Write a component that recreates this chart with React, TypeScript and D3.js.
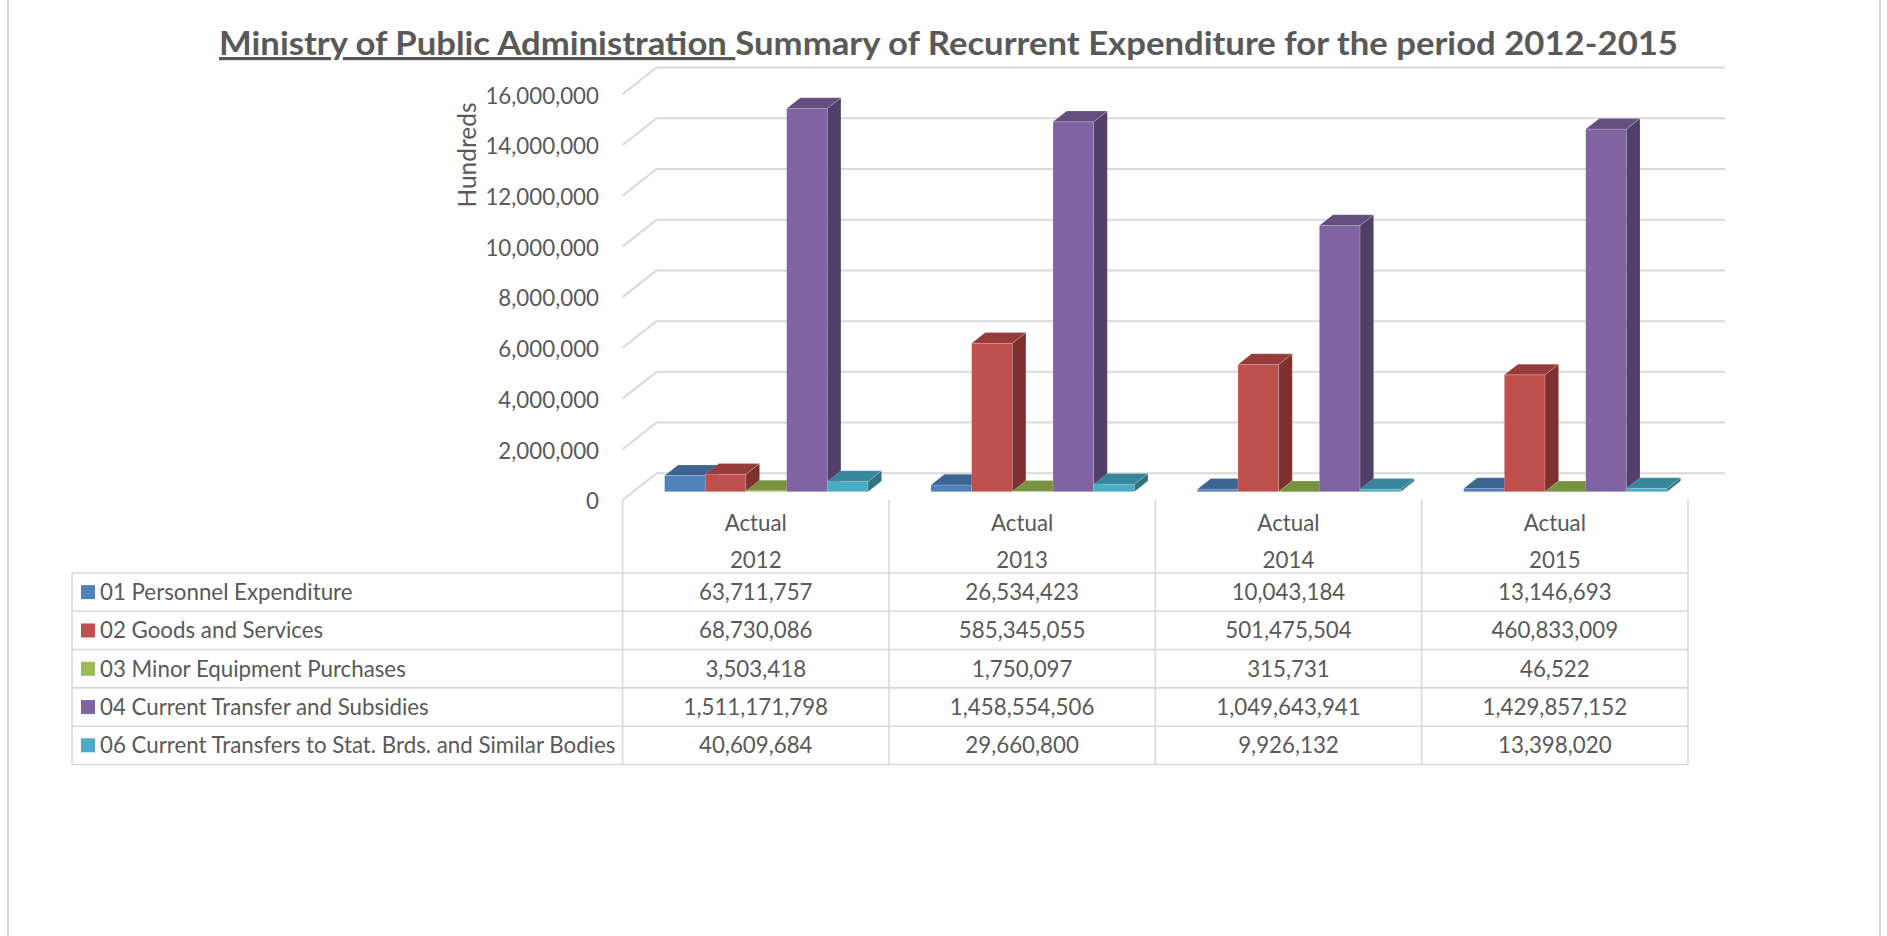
import React from "react";
import * as d3 from "d3";

const categories = ["2012", "2013", "2014", "2015"];
const headerLabel = "Actual";
const seriesNames = [
  "01 Personnel Expenditure",
  "02 Goods and Services",
  "03 Minor Equipment Purchases",
  "04 Current Transfer and Subsidies",
  "06 Current Transfers to Stat. Brds. and Similar Bodies",
];
const personnel = [63711757, 26534423, 10043184, 13146693];
const goods = [68730086, 585345055, 501475504, 460833009];
const minor = [3503418, 1750097, 315731, 46522];
const transfers = [1511171798, 1458554506, 1049643941, 1429857152];
const statBodies = [40609684, 29660800, 9926132, 13398020];
const seriesValues = [personnel, goods, minor, transfers, statBodies];
const yTicks = [0, 2000000, 4000000, 6000000, 8000000, 10000000, 12000000, 14000000, 16000000];
const unitDivisor = 100;

const faceColors = [
  { front: "#4F81BD", top: "#3E6592", side: "#34567E" },
  { front: "#C0504D", top: "#953B39", side: "#7D302E" },
  { front: "#9BBB59", top: "#78923F", side: "#657C35" },
  { front: "#8064A2", top: "#634E80", side: "#523F69" },
  { front: "#4BACC6", top: "#37879C", side: "#2E7284" },
];

const TEXT = "#595959";
const GRID = "#d9d9d9";
const FONT = "Lato, 'Noto Sans', sans-serif";
const FS = 22.3;

export default function App() {
  const W = 1887, H = 936;
  const frontLeft = 622.6, frontRight = 1688;
  const floorY = 500;
  const DX = 34, DY = -26.7; // full depth offset
  const t0 = 0.31, tb = 0.4;

  const x0 = d3.scaleBand<string>().domain(categories).range([frontLeft, frontRight]);
  const x1 = d3
    .scaleBand<string>()
    .domain(seriesNames)
    .range([0, x0.bandwidth()])
    .paddingInner(0)
    .paddingOuter(0.773);
  const yH = d3.scaleLinear().domain([0, 16000000]).range([0, 405.8]);
  const fmt = d3.format(",");

  const bars: JSX.Element[] = [];
  const base = floorY + DY * t0;
  const bdx = DX * tb, bdy = DY * tb;
  categories.forEach((c, ci) => {
    seriesNames.forEach((s, si) => {
      const v = seriesValues[si][ci] / unitDivisor;
      const h = yH(v);
      const X = (x0(c) as number) + DX * t0 + (x1(s) as number);
      const w = x1.bandwidth();
      const top = base - h;
      const col = faceColors[si];
      const stroke = "rgba(255,255,255,0.25)";
      bars.push(
        <g key={`${c}-${si}`}>
          <rect x={X} y={top} width={w} height={h} fill={col.front} stroke={stroke} strokeWidth={0.7} />
          <polygon
            points={`${X + w},${base} ${X + w + bdx},${base + bdy} ${X + w + bdx},${top + bdy} ${X + w},${top}`}
            fill={col.side}
            stroke={stroke}
            strokeWidth={0.7}
          />
          <polygon
            points={`${X},${top} ${X + bdx},${top + bdy} ${X + w + bdx},${top + bdy} ${X + w},${top}`}
            fill={col.top}
            stroke={stroke}
            strokeWidth={0.7}
          />
        </g>
      );
    });
  });

  const tableLeft = 72;
  const tableTop = 573;
  const rowH = 38.3;
  const headerTop = floorY;

  return (
    <svg
      width={W}
      height={H}
      style={{ position: "absolute", left: 0, top: 0, background: "#fff" }}
      fontFamily={FONT}
    >
      <rect x={0} y={0} width={W} height={H} fill="#fff" />
      <line x1={8} y1={0} x2={8} y2={H} stroke={GRID} strokeWidth={2} />
      <line x1={1880} y1={0} x2={1880} y2={H} stroke={GRID} strokeWidth={2} />

      {/* Title */}
      <text
        x={948.5}
        y={55}
        textAnchor="middle"
        fontSize={32}
        fontWeight={700}
        fill={TEXT}
        textLength={1459}
        lengthAdjust="spacingAndGlyphs"
      >
        <tspan textDecoration="underline" style={{ textDecoration: "underline" }}>
          Ministry of Public Administration{" "}
        </tspan>
        <tspan>Summary of Recurrent Expenditure for the period 2012-2015</tspan>
      </text>

      {/* Gridlines: side wall diagonals + back wall */}
      {yTicks.map((t) => {
        const hy = yH(t);
        return (
          <g key={`g${t}`}>
            <line
              x1={frontLeft}
              y1={floorY - hy}
              x2={frontLeft + DX}
              y2={floorY + DY - hy}
              stroke={GRID}
              strokeWidth={2}
            />
            <line
              x1={frontLeft + DX}
              y1={floorY + DY - hy}
              x2={frontRight + DX + 3}
              y2={floorY + DY - hy}
              stroke={GRID}
              strokeWidth={2}
            />
          </g>
        );
      })}

      {/* Y tick labels */}
      {yTicks.map((t) => (
        <text
          key={`t${t}`}
          x={599}
          y={floorY - yH(t) + 1.5}
          dy="0.35em"
          textAnchor="end"
          fontSize={FS}
          fill={TEXT}
        >
          {fmt(t)}
        </text>
      ))}
      <text
        transform={`translate(467,155) rotate(-90)`}
        textAnchor="middle"
        dy="0.35em"
        fontSize={24.5}
        fill={TEXT}
      >
        Hundreds
      </text>

      {bars}

      {/* Data table */}
      <g stroke={GRID} strokeWidth={1.6}>
        {d3.range(seriesNames.length + 1).map((i) => (
          <line
            key={`r${i}`}
            x1={tableLeft}
            x2={frontRight}
            y1={tableTop + i * rowH}
            y2={tableTop + i * rowH}
          />
        ))}
        <line x1={tableLeft} x2={tableLeft} y1={tableTop} y2={tableTop + seriesNames.length * rowH} />
        {categories.map((c) => (
          <line
            key={`v${c}`}
            x1={x0(c) as number}
            x2={x0(c) as number}
            y1={headerTop}
            y2={tableTop + seriesNames.length * rowH}
          />
        ))}
        <line x1={frontRight} x2={frontRight} y1={headerTop} y2={tableTop + seriesNames.length * rowH} />
      </g>

      {categories.map((c) => {
        const cx = (x0(c) as number) + x0.bandwidth() / 2;
        return (
          <g key={`h${c}`} fill={TEXT} fontSize={FS} textAnchor="middle">
            <text x={cx} y={523} dy="0.35em">
              {headerLabel}
            </text>
            <text x={cx} y={560} dy="0.35em">
              {c}
            </text>
          </g>
        );
      })}

      {seriesNames.map((s, si) => {
        const cy = tableTop + si * rowH + rowH / 2;
        return (
          <g key={`row${si}`}>
            <rect x={81} y={cy - 7} width={14} height={14} fill={faceColors[si].front} />
            <text x={100} y={cy} dy="0.35em" fontSize={FS} fill={TEXT}>
              {s}
            </text>
            {categories.map((c, ci) => (
              <text
                key={`c${ci}`}
                x={(x0(c) as number) + x0.bandwidth() / 2}
                y={cy}
                dy="0.35em"
                textAnchor="middle"
                fontSize={FS}
                fill={TEXT}
              >
                {fmt(seriesValues[si][ci])}
              </text>
            ))}
          </g>
        );
      })}
    </svg>
  );
}
